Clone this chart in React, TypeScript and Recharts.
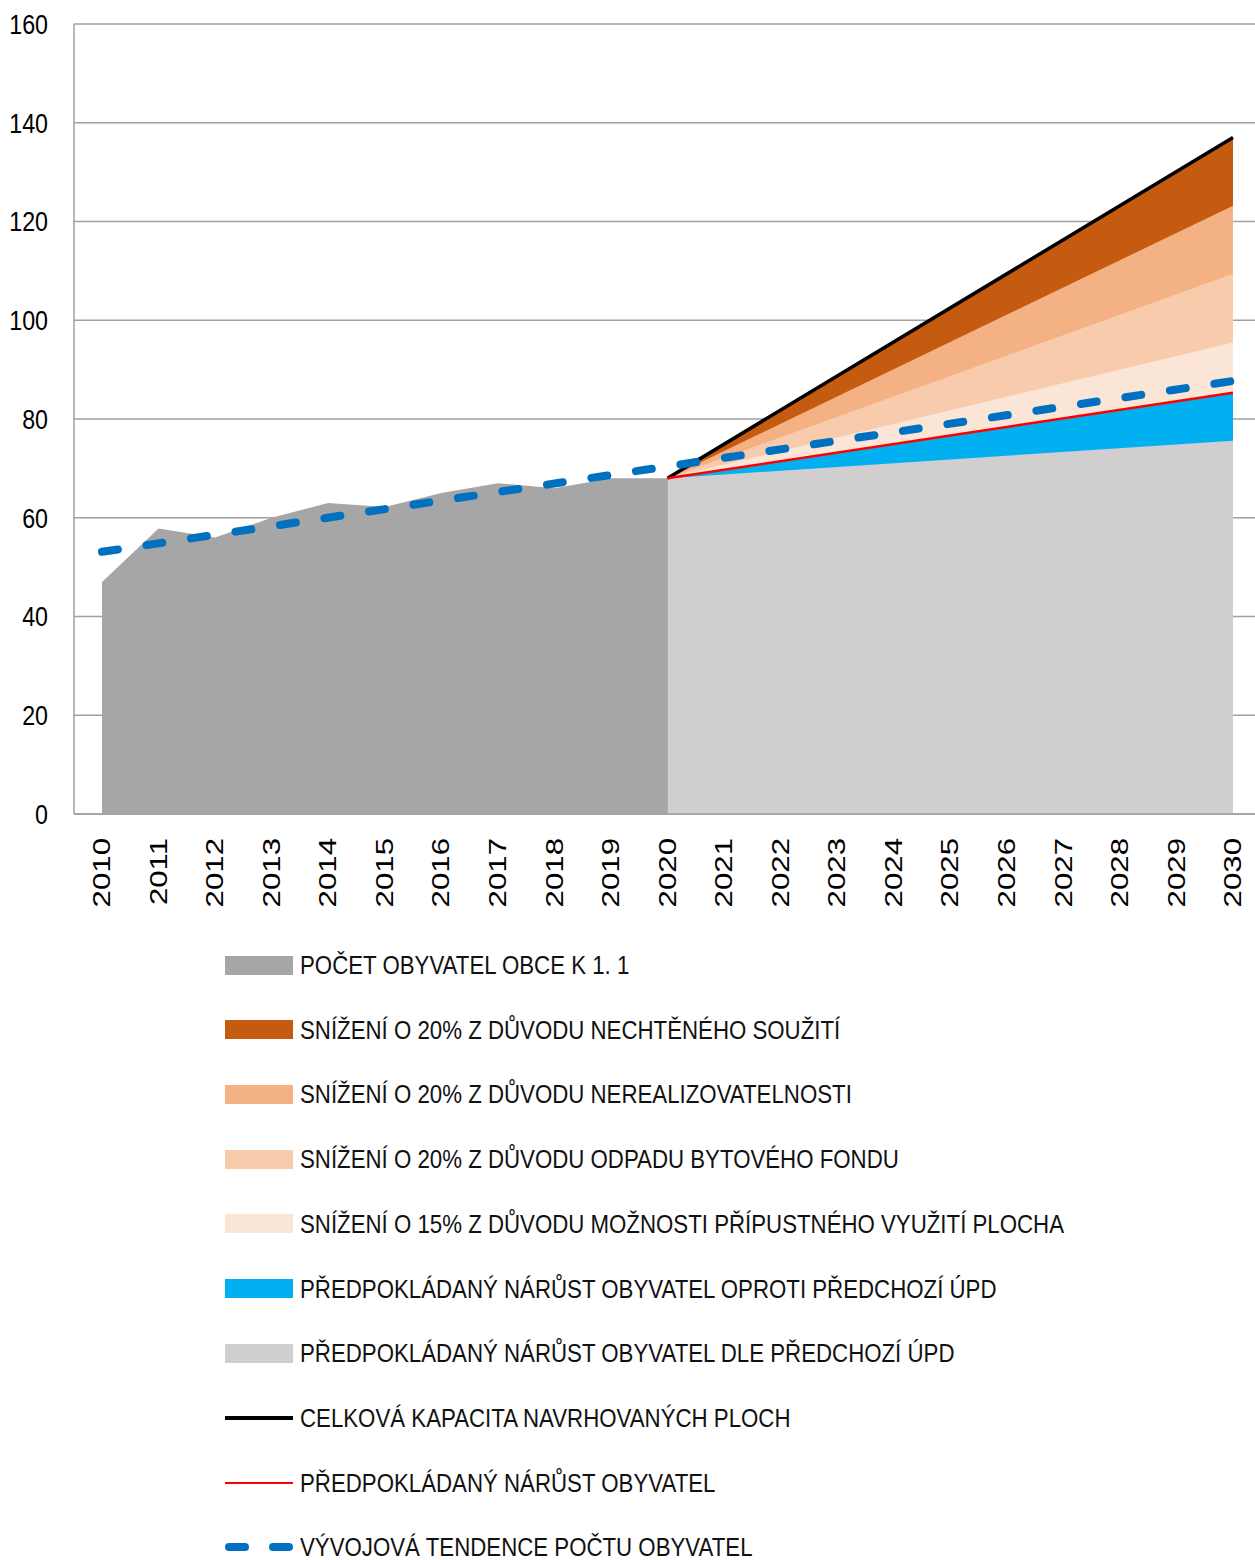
import {
  ComposedChart,
  Area,
  Line,
  XAxis,
  YAxis,
  CartesianGrid,
} from "recharts";

const years = [
  "2010", "2011", "2012", "2013", "2014", "2015", "2016", "2017", "2018", "2019", "2020",
  "2021", "2022", "2023", "2024", "2025", "2026", "2027", "2028", "2029", "2030",
];

const N = null;

// population on 1 Jan (historic part)
const pocetObyvatel = [47, 57.8, 56, 60, 63, 62.2, 65, 67, 66, 68, 68, N, N, N, N, N, N, N, N, N, N];

// future part: values at 2020 and 2030, the chart draws straight lines between them
const celkovaKapacita = [N, N, N, N, N, N, N, N, N, N, 68, N, N, N, N, N, N, N, N, N, 137];
const snizeniSouziti = [N, N, N, N, N, N, N, N, N, N, 68, N, N, N, N, N, N, N, N, N, 137];
const snizeniNerealiz = [N, N, N, N, N, N, N, N, N, N, 68, N, N, N, N, N, N, N, N, N, 123.2];
const snizeniOdpad = [N, N, N, N, N, N, N, N, N, N, 68, N, N, N, N, N, N, N, N, N, 109.4];
const snizeniPripustne = [N, N, N, N, N, N, N, N, N, N, 68, N, N, N, N, N, N, N, N, N, 95.5];
const narustOproti = [N, N, N, N, N, N, N, N, N, N, 68, N, N, N, N, N, N, N, N, N, 85.3];
const narustDle = [N, N, N, N, N, N, N, N, N, N, 68, N, N, N, N, N, N, N, N, N, 75.6];
const predpokladanyNarust = [N, N, N, N, N, N, N, N, N, N, 68, N, N, N, N, N, N, N, N, N, 85.3];
const tendence = [53.1, N, N, N, N, N, N, N, N, N, N, N, N, N, N, N, N, N, N, N, 87.7];

const yTicks = [0, 20, 40, 60, 80, 100, 120, 140, 160];

const data = years.map((year, i) => ({
  year,
  pocet: pocetObyvatel[i],
  kapacita: celkovaKapacita[i],
  souziti: snizeniSouziti[i],
  nerealiz: snizeniNerealiz[i],
  odpad: snizeniOdpad[i],
  pripustne: snizeniPripustne[i],
  oproti: narustOproti[i],
  dle: narustDle[i],
  narust: predpokladanyNarust[i],
  tendence: tendence[i],
}));

const legendItems = [
  { label: "POČET OBYVATEL OBCE K 1. 1", kind: "box", color: "#A6A6A6" },
  { label: "SNÍŽENÍ O 20% Z DŮVODU NECHTĚNÉHO SOUŽITÍ", kind: "box", color: "#C55A11" },
  { label: "SNÍŽENÍ O 20% Z DŮVODU NEREALIZOVATELNOSTI", kind: "box", color: "#F4B183" },
  { label: "SNÍŽENÍ O 20% Z DŮVODU ODPADU BYTOVÉHO FONDU", kind: "box", color: "#F8CBAD" },
  { label: "SNÍŽENÍ O 15% Z DŮVODU MOŽNOSTI PŘÍPUSTNÉHO VYUŽITÍ PLOCHA", kind: "box", color: "#FBE5D6" },
  { label: "PŘEDPOKLÁDANÝ NÁRŮST OBYVATEL OPROTI PŘEDCHOZÍ ÚPD", kind: "box", color: "#00B0F0" },
  { label: "PŘEDPOKLÁDANÝ NÁRŮST OBYVATEL DLE PŘEDCHOZÍ ÚPD", kind: "box", color: "#D0CECE" },
  { label: "CELKOVÁ KAPACITA NAVRHOVANÝCH PLOCH", kind: "line", color: "#000000" },
  { label: "PŘEDPOKLÁDANÝ NÁRŮST OBYVATEL", kind: "thin", color: "#FF0000" },
  { label: "VÝVOJOVÁ TENDENCE POČTU OBYVATEL", kind: "dash", color: "#0070C0" },
];

const sans = "'Liberation Sans', Arial, sans-serif";

const YearTick = (props: any) => {
  const { x, y, payload } = props;
  return (
    <g transform={`translate(${x},${y + 16})`}>
      <text
        transform="rotate(-90) scale(1.3,1)"
        textAnchor="end"
        dominantBaseline="central"
        fontFamily={sans}
        fontSize={24}
        fill="#000"
      >
        {payload.value}
      </text>
    </g>
  );
};

const ValueTick = (props: any) => {
  const { x, y, payload } = props;
  return (
    <g transform={`translate(${x - 2},${y})`}>
      <text
        transform="scale(0.83,1)"
        textAnchor="end"
        dominantBaseline="central"
        fontFamily={sans}
        fontSize={28}
        fill="#000"
      >
        {payload.value}
      </text>
    </g>
  );
};

const Swatch = ({ kind, color }: { kind: string; color: string }) => {
  if (kind === "box") {
    return <div style={{ width: 68, height: 19, background: color }} />;
  }
  return (
    <svg width={70} height={20} style={{ display: "block" }}>
      {kind === "line" && <line x1={0} y1={10} x2={68} y2={10} stroke={color} strokeWidth={4} />}
      {kind === "thin" && <line x1={0} y1={10} x2={68} y2={10} stroke={color} strokeWidth={2} />}
      {kind === "dash" && (
        <line
          x1={4}
          y1={10}
          x2={66}
          y2={10}
          stroke={color}
          strokeWidth={8}
          strokeLinecap="round"
          strokeDasharray="16 28"
        />
      )}
    </svg>
  );
};

export default function App() {
  return (
    <div
      style={{
        position: "absolute",
        left: 0,
        top: 0,
        width: 1255,
        height: 1560,
        overflow: "hidden",
        background: "#fff",
      }}
    >
      <ComposedChart
        width={1261}
        height={920}
        data={data}
        margin={{ top: 24, right: 0, bottom: 0, left: 0 }}
      >
        <CartesianGrid vertical={false} stroke="#A0A0A0" strokeWidth={1.5} />
        <XAxis
          dataKey="year"
          padding={{ left: 28, right: 28 }}
          height={106}
          stroke="#A0A0A0"
          strokeWidth={1.5}
          tickLine={false}
          interval={0}
          tick={<YearTick />}
        />
        <YAxis
          width={74}
          domain={[0, 160]}
          ticks={yTicks}
          stroke="#A0A0A0"
          strokeWidth={1.5}
          tickLine={false}
          tickMargin={18}
          tick={<ValueTick />}
        />

        <Area dataKey="souziti" type="linear" fill="#C55A11" fillOpacity={1} stroke="none" connectNulls isAnimationActive={false} />
        <Area dataKey="nerealiz" type="linear" fill="#F4B183" fillOpacity={1} stroke="none" connectNulls isAnimationActive={false} />
        <Area dataKey="odpad" type="linear" fill="#F8CBAD" fillOpacity={1} stroke="none" connectNulls isAnimationActive={false} />
        <Area dataKey="pripustne" type="linear" fill="#FBE5D6" fillOpacity={1} stroke="none" connectNulls isAnimationActive={false} />
        <Area dataKey="oproti" type="linear" fill="#00B0F0" fillOpacity={1} stroke="none" connectNulls isAnimationActive={false} />
        <Area dataKey="dle" type="linear" fill="#D0CECE" fillOpacity={1} stroke="none" connectNulls isAnimationActive={false} />
        <Area dataKey="pocet" type="linear" fill="#A6A6A6" fillOpacity={1} stroke="none" isAnimationActive={false} />

        <Line dataKey="kapacita" type="linear" stroke="#000" strokeWidth={3.5} dot={false} connectNulls isAnimationActive={false} />
        <Line dataKey="narust" type="linear" stroke="#FF0000" strokeWidth={2.5} dot={false} connectNulls isAnimationActive={false} />
        <Line
          dataKey="tendence"
          type="linear"
          stroke="#0070C0"
          strokeWidth={8}
          strokeLinecap="round"
          strokeDasharray="16 29"
          dot={false}
          connectNulls
          isAnimationActive={false}
        />
      </ComposedChart>

      {legendItems.map((item, i) => (
        <div
          key={item.label}
          style={{
            position: "absolute",
            left: 225,
            top: 965 + i * 64.7 - 12,
            height: 24,
            display: "flex",
            alignItems: "center",
            whiteSpace: "nowrap",
          }}
        >
          <Swatch kind={item.kind} color={item.color} />
          <span
            style={{
              display: "inline-block",
              marginLeft: item.kind === "box" ? 7 : 5,
              fontFamily: sans,
              fontSize: 25,
              lineHeight: "24px",
              color: "#111",
              transform: "scaleX(0.89)",
              transformOrigin: "left center",
            }}
          >
            {item.label}
          </span>
        </div>
      ))}
    </div>
  );
}
